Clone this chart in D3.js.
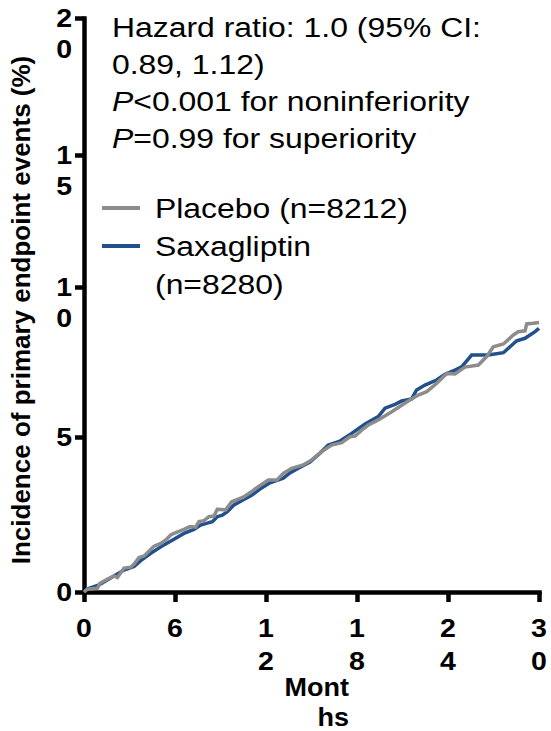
<!DOCTYPE html>
<html>
<head>
<meta charset="utf-8">
<script src="https://cdn.jsdelivr.net/npm/d3@7"></script>
<style>
    body { margin: 0; background: #fff; }
    text { font-family: "Liberation Sans", Arial, sans-serif; fill: #000; }
</style>
</head>
<body>
<svg id="chart" width="551" height="731"></svg>
<script>
// cumulative incidence (%)
const placeboMonths = [0, 0.22, 0.88, 1.05, 1.53, 1.98, 2.20, 2.64, 3.08, 3.30, 3.63, 3.96, 4.62, 5.06, 5.39, 5.72, 5.93,
    6.59, 6.99, 7.36, 7.58, 7.91, 8.24, 8.57, 8.79, 9.34, 9.74, 10.50, 11.06, 11.49, 12.15, 12.71, 13.14, 13.69,
    14.46, 15.01, 15.67, 16.33, 16.99, 17.54, 17.87, 18.31, 18.75, 19.40, 20.29, 21.38, 22.04, 22.60, 23.26,
    23.92, 24.46, 25.12, 26.00, 26.55, 26.99, 27.65, 28.31, 28.63, 29.08, 29.19, 29.62, 30.0];
const placeboPct = [0, 0.09, 0.12, 0.28, 0.41, 0.52, 0.47, 0.77, 0.80, 0.90, 1.11, 1.16, 1.48, 1.57, 1.68, 1.84, 1.89,
    2.02, 2.11, 2.09, 2.27, 2.30, 2.43, 2.45, 2.67, 2.65, 2.91, 3.06, 3.24, 3.40, 3.61, 3.61, 3.83, 3.99,
    4.10, 4.26, 4.53, 4.74, 4.82, 5.01, 5.03, 5.23, 5.40, 5.57, 5.84, 6.20, 6.40, 6.51, 6.79,
    7.12, 7.10, 7.33, 7.40, 7.68, 8.01, 8.10, 8.40, 8.51, 8.54, 8.77, 8.79, 8.82];

const saxaMonths = [0, 0.20, 0.99, 2.64, 3.30, 3.74, 4.40, 5.27, 5.93, 6.59, 7.25, 7.69, 8.13, 8.46, 8.79, 9.12, 9.45,
    9.89, 10.48, 11.08, 11.60, 12.26, 13.14, 13.58, 14.13, 14.90, 15.56, 16.11, 16.88, 17.65, 18.53, 19.40,
    19.85, 20.51, 20.95, 21.60, 21.93, 22.48, 23.25, 23.80, 24.46, 24.90, 25.56, 26.66, 27.65, 27.98, 28.53,
    29.08, 29.74, 30.0];
const saxaPct = [0, 0.10, 0.23, 0.71, 0.82, 1.01, 1.25, 1.52, 1.70, 1.89, 2.02, 2.16, 2.22, 2.27, 2.43, 2.48, 2.59,
    2.81, 2.97, 3.13, 3.32, 3.52, 3.67, 3.84, 3.99, 4.19, 4.48, 4.74, 4.87, 5.12, 5.43, 5.68,
    5.96, 6.09, 6.20, 6.27, 6.57, 6.73, 6.90, 7.09, 7.23, 7.34, 7.73, 7.73, 7.81, 7.96, 8.21,
    8.29, 8.51, 8.62];

const yTicks = [0, 5, 10, 15, 20];
const xTicks = [0, 6, 12, 18, 24, 30];
const yTitle = "Incidence of primary endpoint events (%)";
const xTitle = ["Mont", "hs"];
const statLines = ["Hazard ratio: 1.0 (95% CI:", "0.89, 1.12)", "P<0.001 for noninferiority", "P=0.99 for superiority"];
const legendNames = [["Placebo (n=8212)"], ["Saxagliptin", "(n=8280)"]];
const seriesColors = ["#8c8c8c", "#21508c"];

const svg = d3.select("#chart");
const stretch = 1.14; // text in the original is a bit wider than it is tall

// y axis is not evenly spaced in the original, so the scale is piecewise
const y = d3.scaleLinear()
    .domain(yTicks)
    .range([592, 437, 287, 155, 18]);
const x = d3.scaleLinear()
    .domain([0, 30])
    .range([84, 539]);

// axes
const yAxis = svg.append("g")
    .attr("transform", "translate(84,0)")
    .call(d3.axisLeft(y).tickValues(yTicks).tickSize(9).tickSizeOuter(0).tickFormat(""));
const xAxis = svg.append("g")
    .attr("transform", "translate(0,592)")
    .call(d3.axisBottom(x).tickValues(xTicks).tickSize(10).tickSizeOuter(0).tickFormat(""));

[yAxis, xAxis].forEach(a => {
    a.select(".domain").attr("stroke", "#000").attr("stroke-width", 4.5).attr("stroke-linecap", "square");
    a.selectAll(".tick line").attr("stroke", "#000").attr("stroke-width", 4.5);
});

// tick labels, one digit per line like the original
yTicks.forEach(v => {
    const t = svg.append("text")
        .attr("transform", `translate(72,${y(v) + 9}) scale(${stretch},1)`)
        .attr("text-anchor", "end")
        .attr("font-size", 25)
        .attr("font-weight", "bold");
    String(v).split("").forEach((c, i) => {
        t.append("tspan").attr("x", 0).attr("dy", i === 0 ? 0 : 31).text(c);
    });
});
xTicks.forEach(v => {
    const t = svg.append("text")
        .attr("transform", `translate(${x(v)},637) scale(${stretch},1)`)
        .attr("text-anchor", "middle")
        .attr("font-size", 25)
        .attr("font-weight", "bold");
    String(v).split("").forEach((c, i) => {
        t.append("tspan").attr("x", 0).attr("dy", i === 0 ? 0 : 33).text(c);
    });
});

// axis titles
svg.append("text")
    .attr("transform", "translate(30,310) rotate(-90)")
    .attr("text-anchor", "middle")
    .attr("font-size", 26)
    .attr("font-weight", "bold")
    .text(yTitle);

const xt = svg.append("text")
    .attr("transform", `translate(349,696) scale(1.08,1)`)
    .attr("text-anchor", "end")
    .attr("font-size", 25)
    .attr("font-weight", "bold");
xTitle.forEach((s, i) => xt.append("tspan").attr("x", 0).attr("dy", i === 0 ? 0 : 30).text(s));

// curves
const line = d3.line()
    .x(d => x(d[0]))
    .y(d => y(d[1]));

const series = [
    d3.zip(placeboMonths, placeboPct),
    d3.zip(saxaMonths, saxaPct)
];

svg.append("path")
    .datum(series[1])
    .attr("fill", "none")
    .attr("stroke", seriesColors[1])
    .attr("stroke-width", 3.5)
    .attr("d", line);
svg.append("path")
    .datum(series[0])
    .attr("fill", "none")
    .attr("stroke", seriesColors[0])
    .attr("stroke-width", 3.5)
    .attr("d", line);

// statistics text
statLines.forEach((s, i) => {
    const t = svg.append("text")
        .attr("transform", `translate(112,${37 + i * 37}) scale(${stretch},1)`)
        .attr("font-size", 28);
    if (/^P[<=]/.test(s)) {
        t.append("tspan").attr("font-style", "italic").text("P");
        t.append("tspan").text(s.slice(1));
    } else {
        t.text(s);
    }
});

// legend
legendNames.forEach((lines, i) => {
    const base = 218 + i * 38;
    svg.append("line")
        .attr("x1", 102).attr("x2", 140)
        .attr("y1", base - 10).attr("y2", base - 10)
        .attr("stroke", seriesColors[i])
        .attr("stroke-width", 4);
    const t = svg.append("text")
        .attr("transform", `translate(155,${base}) scale(${stretch},1)`)
        .attr("font-size", 28);
    lines.forEach((s, j) => t.append("tspan").attr("x", 0).attr("dy", j === 0 ? 0 : 38).text(s));
});
</script>
</body>
</html>
